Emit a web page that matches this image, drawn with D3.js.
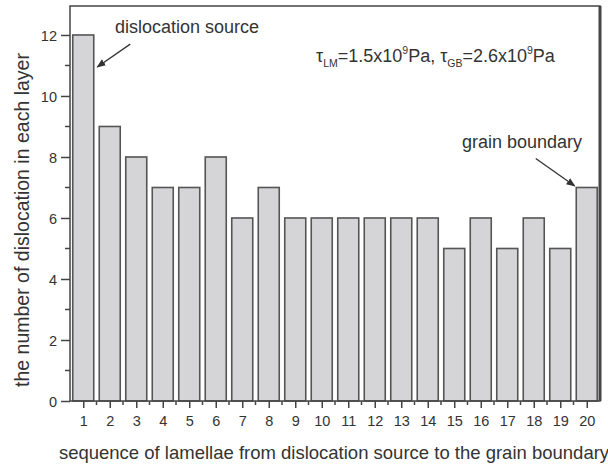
<!DOCTYPE html>
<html><head><meta charset="utf-8">
<script src="https://cdn.jsdelivr.net/npm/d3@7"></script>
<style>body{margin:0;background:#fff;} text{font-family:"Liberation Sans",Arial,sans-serif;fill:#333;}</style>
</head><body>
<svg id="c" width="608" height="465"></svg>
<script>
const categories = [1,2,3,4,5,6,7,8,9,10,11,12,13,14,15,16,17,18,19,20];
const values = [12,9,8,7,7,8,6,7,6,6,6,6,6,6,5,6,5,6,5,7];
const yTicks = [0,2,4,6,8,10,12];
const xLabel = "sequence of lamellae from dislocation source to the grain boundary";
const yLabel = "the number of dislocation in each layer";

const svg = d3.select("#c");
const L = 70, R = 600, T = 6, B = 401;
const x = d3.scaleLinear().domain([0.5, 20.5]).range([L, R]);
const y = d3.scaleLinear().domain([0, 12.95]).range([B, T]);
const ink = "#444";

const bw = 21;
svg.append("g").selectAll("rect").data(values).join("rect")
  .attr("x", (d,i) => x(categories[i]) - bw/2)
  .attr("y", d => y(d))
  .attr("width", bw)
  .attr("height", d => y(0) - y(d))
  .attr("fill", "#d5d5d7")
  .attr("stroke", "#555")
  .attr("stroke-width", 1.6);

// frame
svg.append("rect").attr("x", L).attr("y", T).attr("width", R-L).attr("height", B-T)
  .attr("fill","none").attr("stroke", ink).attr("stroke-width", 1.5);
svg.append("line").attr("x1", R).attr("x2", R).attr("y1", T).attr("y2", B)
  .attr("stroke", ink).attr("stroke-width", 3);

// y axis
const ya = svg.append("g").attr("transform", `translate(${L},0)`)
  .call(d3.axisLeft(y).tickValues(yTicks).tickSize(9).tickPadding(4).tickFormat(d3.format("d")));
ya.select(".domain").remove();
ya.selectAll("text").attr("font-size", 14.5).style("font-family","Liberation Sans, Arial").attr("fill","#333").attr("dy","0.36em");
ya.selectAll("line").attr("stroke", ink).attr("stroke-width", 1.5);
const yMinor = d3.range(1, 13, 2);
svg.append("g").selectAll("line").data(yMinor).join("line")
  .attr("x1", L - 5).attr("x2", L).attr("y1", d => y(d)).attr("y2", d => y(d))
  .attr("stroke", ink).attr("stroke-width", 1.5);

// x axis
const xa = svg.append("g").attr("transform", `translate(0,${B})`)
  .call(d3.axisBottom(x).tickValues(categories).tickSize(7).tickPadding(8).tickFormat(d3.format("d")));
xa.select(".domain").remove();
xa.selectAll("text").attr("font-size", 14.5).style("font-family","Liberation Sans, Arial").attr("fill","#333");
xa.selectAll("line").attr("stroke", ink).attr("stroke-width", 1.5);
const xMinor = d3.range(1.5, 20.5, 1);
svg.append("g").selectAll("line").data(xMinor).join("line")
  .attr("y1", B).attr("y2", B + 4).attr("x1", d => x(d)).attr("x2", d => x(d))
  .attr("stroke", ink).attr("stroke-width", 1.5);

// axis labels
svg.append("text").attr("x", 334).attr("y", 459).attr("text-anchor","middle")
  .attr("font-size", 18.5).text(xLabel);
svg.append("text").attr("transform", `translate(29,220) rotate(-90)`)
  .attr("text-anchor","middle").attr("font-size", 19.5).text(yLabel);

// annotations
svg.append("defs").append("marker").attr("id","ah").attr("viewBox","0 0 10 10")
  .attr("refX",9).attr("refY",5).attr("markerWidth",7).attr("markerHeight",7).attr("orient","auto")
  .append("path").attr("d","M0,1 L10,5 L0,9 z").attr("fill","#333");

svg.append("text").attr("x", 115).attr("y", 33).attr("font-size", 18).text("dislocation source");
svg.append("line").attr("x1", x(1)+47).attr("y1", y(11.7)).attr("x2", x(1)+14).attr("y2", y(10.95))
  .attr("stroke","#333").attr("stroke-width",1.3).attr("marker-end","url(#ah)");

svg.append("text").attr("x", 462).attr("y", 148).attr("font-size", 18).text("grain boundary");
svg.append("line").attr("x1", x(20)-51).attr("y1", y(7.95)).attr("x2", x(20)-12).attr("y2", y(7.05))
  .attr("stroke","#333").attr("stroke-width",1.3).attr("marker-end","url(#ah)");

const t = svg.append("text").attr("x", 316).attr("y", 62).attr("font-size", 18);
t.append("tspan").text("τ");
t.append("tspan").attr("font-size", 10.5).attr("dy", 5).text("LM");
t.append("tspan").attr("dy", -5).text("=1.5x10");
t.append("tspan").attr("font-size", 10.5).attr("dy", -8).text("9");
t.append("tspan").attr("dy", 8).text("Pa, τ");
t.append("tspan").attr("font-size", 10.5).attr("dy", 5).text("GB");
t.append("tspan").attr("dy", -5).text("=2.6x10");
t.append("tspan").attr("font-size", 10.5).attr("dy", -8).text("9");
t.append("tspan").attr("dy", 8).text("Pa");
</script>
</body></html>
